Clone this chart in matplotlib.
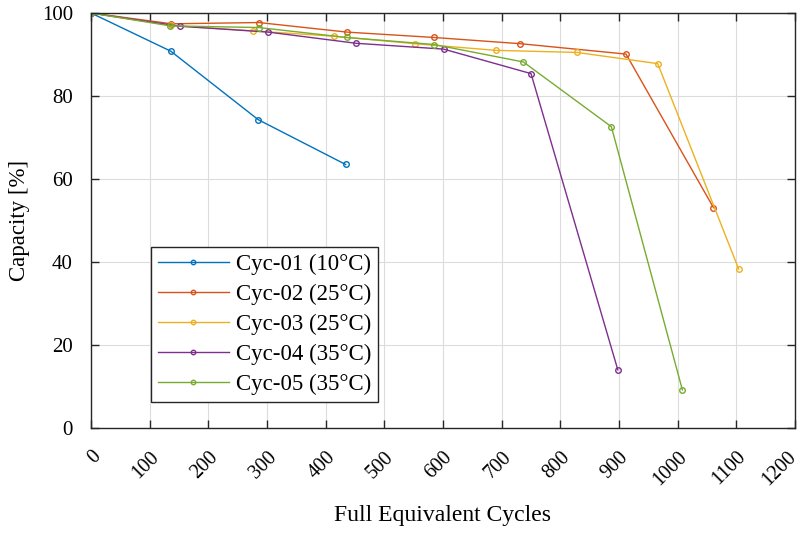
import matplotlib
matplotlib.use('Agg')
import matplotlib.pyplot as plt
from matplotlib.transforms import ScaledTranslation

plt.rcParams['font.family'] = ['Liberation Serif', 'DejaVu Serif']

# ─── Data ───
labels = ['Cyc-01 (10°C)', 'Cyc-02 (25°C)', 'Cyc-03 (25°C)',
          'Cyc-04 (35°C)', 'Cyc-05 (35°C)']
colors = ['#0072BD', '#D95319', '#EDB120', '#7E2F8E', '#77AC30']

cyc01_x = [0, 136, 285, 434]
cyc01_y = [100, 90.8, 74.3, 63.5]
cyc02_x = [0, 137, 286, 436, 585, 732, 912, 1061]
cyc02_y = [100, 97.4, 97.7, 95.4, 94.1, 92.6, 90.1, 53.1]
cyc03_x = [0, 137, 276, 414, 552, 690, 828, 966, 1104]
cyc03_y = [100, 97.0, 95.7, 94.4, 92.6, 91.0, 90.5, 87.8, 38.3]
cyc04_x = [0, 152, 302, 452, 601, 750, 898]
cyc04_y = [100, 96.8, 95.4, 92.7, 91.3, 85.4, 14.0]
cyc05_x = [0, 135, 286, 436, 585, 737, 887, 1008]
cyc05_y = [100, 96.9, 96.5, 94.1, 92.4, 88.2, 72.6, 9.2]

xs = [cyc01_x, cyc02_x, cyc03_x, cyc04_x, cyc05_x]
ys = [cyc01_y, cyc02_y, cyc03_y, cyc04_y, cyc05_y]

x_ticks = list(range(0, 1300, 100))
y_ticks = [0, 20, 40, 60, 80, 100]

# ─── Figure ───
fig = plt.figure(figsize=(8.04, 5.33), dpi=100)
ax = fig.add_axes([91/804, 1 - 428/533, 704/804, 415/533])

for x, y, c, lab in zip(xs, ys, colors, labels):
    ax.plot(x, y, '-o', color=c, lw=1.0, markersize=4,
            markerfacecolor='none', markeredgewidth=1.0, label=lab)

ax.set_xlim(0, 1200)
ax.set_ylim(0, 100)
ax.set_xticks(x_ticks)
ax.set_yticks(y_ticks)

ax.grid(True, color='#dcdcdc', lw=0.8)
ax.set_axisbelow(True)
for s in ax.spines.values():
    s.set_color('#262626')
    s.set_linewidth(1.0)
ax.tick_params(direction='in', top=True, right=True, length=6,
               width=1.0, color='#262626')
ax.tick_params(axis='y', pad=13, labelsize=15)
ax.tick_params(axis='x', pad=14)

ax.set_xticklabels([str(t) for t in x_ticks], rotation=45, ha='right',
                   va='top', rotation_mode='anchor', fontsize=14.5)
# keep the last rotated label inside the figure edge
last = ax.get_xticklabels()[-1]
last.set_transform(last.get_transform() +
                   ScaledTranslation(-8/100, 0, fig.dpi_scale_trans))

ax.set_xlabel('Full Equivalent Cycles', fontsize=17)
ax.set_ylabel('Capacity [%]', fontsize=16.5)
ax.xaxis.set_label_coords(0.5, -0.185)
ax.yaxis.set_label_coords(-0.087, 0.5)

leg = ax.legend(loc='lower left', bbox_to_anchor=(0.085, 0.063),
                fontsize=16.5, frameon=True, fancybox=False,
                edgecolor='#262626', framealpha=1, handlelength=3.1,
                borderpad=0.3, labelspacing=0.38, handletextpad=0.3,
                markerscale=0.8, borderaxespad=0)
leg.get_frame().set_linewidth(1.0)

fig.savefig('out.png', dpi=100, facecolor='white')
